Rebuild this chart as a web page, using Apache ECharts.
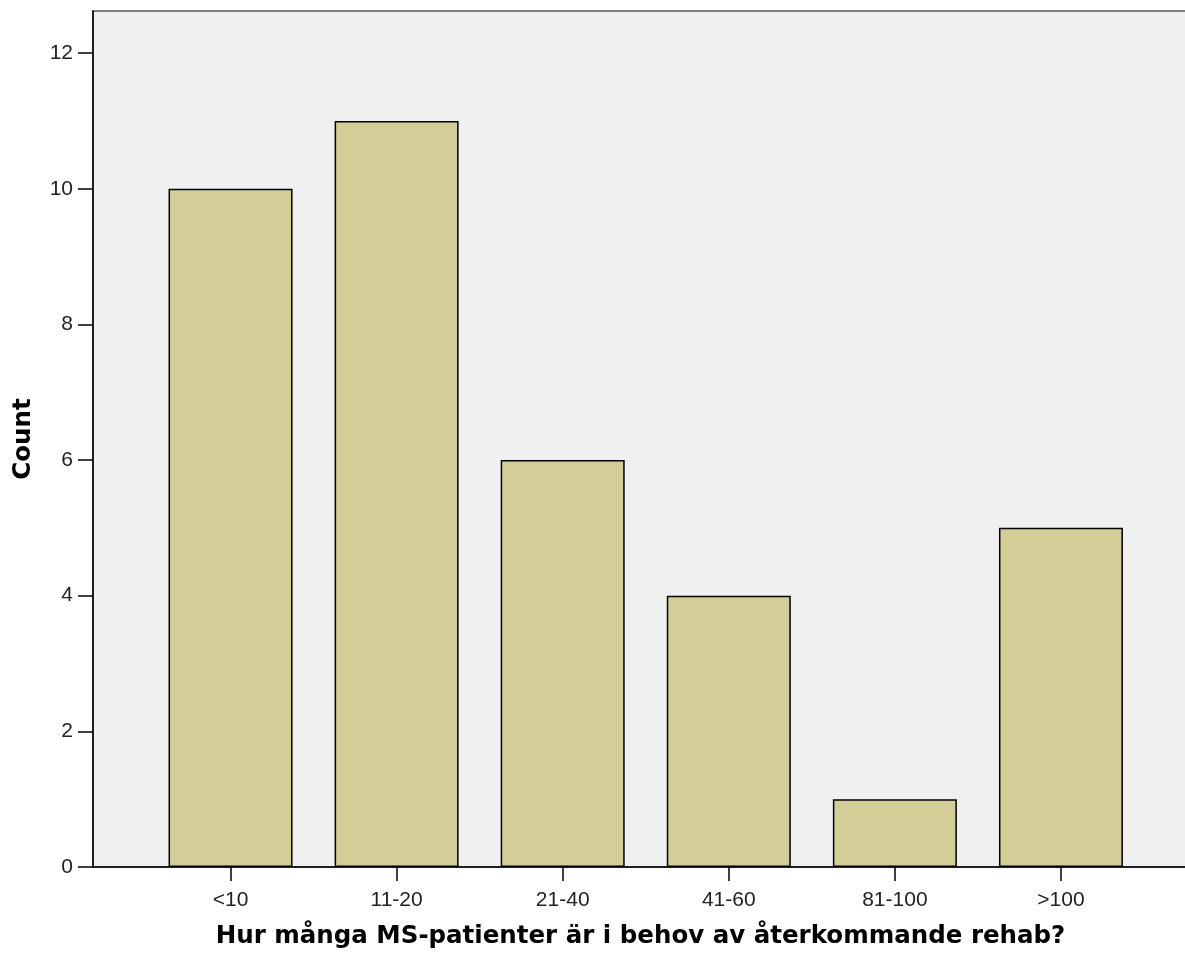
<!DOCTYPE html>
<html>
<head>
<meta charset="utf-8">
<script src="https://cdn.jsdelivr.net/npm/echarts@6/dist/echarts.min.js"></script>
<style>html,body{margin:0;padding:0;background:#fff;}#c{width:1185px;height:958px;}</style>
</head>
<body>
<div id="c"></div>
<script>
const categories = ['<10', '11-20', '21-40', '41-60', '81-100', '>100'];
const counts = [10, 11, 6, 4, 1, 5];
const yTicks = [0, 2, 4, 6, 8, 10, 12];
const xTitle = 'Hur många MS-patienter är i behov av återkommande rehab?';
const yTitle = 'Count';

const chart = echarts.init(document.getElementById('c'), null, {renderer: 'canvas'});
const yMax = 12.62;
const tickFont = 'Liberation Sans, Arial, sans-serif';
const titleFont = 'DejaVu Sans, Verdana, sans-serif';
chart.setOption({
  animation: false,
  backgroundColor: '#ffffff',
  grid: [
    {left: 93, right: -3, top: 11, bottom: 91, show: true, backgroundColor: '#f0f0f0', borderColor: '#5a5a5a', borderWidth: 1.5, containLabel: false, outerBoundsMode: 'none'},
    {left: 147.5, right: 41, top: 11, bottom: 91, containLabel: false, outerBoundsMode: 'none'}
  ],
  xAxis: [
    {gridIndex: 0, type: 'value', min: 0, max: 1, axisLine: {show: true, lineStyle: {color: '#000', width: 1.5}}, axisTick: {show: false}, axisLabel: {show: false}, splitLine: {show: false},
     name: xTitle, nameLocation: 'middle', nameGap: 57, nameTextStyle: {fontFamily: titleFont, fontSize: 24.5, fontWeight: 'bold', color: '#000'}},
    {gridIndex: 1, type: 'category', data: categories, axisLine: {show: false},
     axisTick: {show: true, alignWithLabel: true, length: 14, lineStyle: {color: '#000', width: 1.5}},
     axisLabel: {fontFamily: tickFont, fontSize: 21, color: '#222', margin: 23}}
  ],
  yAxis: [
    {gridIndex: 0, type: 'value', min: 0, max: yMax,
     axisLine: {show: true, lineStyle: {color: '#000', width: 1.5}},
     axisTick: {show: true, length: 15, customValues: yTicks, lineStyle: {color: '#000', width: 1.5}},
     axisLabel: {fontFamily: tickFont, fontSize: 21, color: '#222', margin: 20, customValues: yTicks},
     splitLine: {show: false},
     name: yTitle, nameLocation: 'middle', nameGap: 57, nameRotate: 90,
     nameTextStyle: {fontFamily: titleFont, fontSize: 24.5, fontWeight: 'bold', color: '#000'}},
    {gridIndex: 1, type: 'value', min: 0, max: yMax, show: false}
  ],
  series: [{
    type: 'bar', xAxisIndex: 1, yAxisIndex: 1, data: counts, barWidth: 124,
    itemStyle: {color: '#d3ce97', borderColor: '#000', borderWidth: 1.5}
  }]
});
</script>
</body>
</html>
